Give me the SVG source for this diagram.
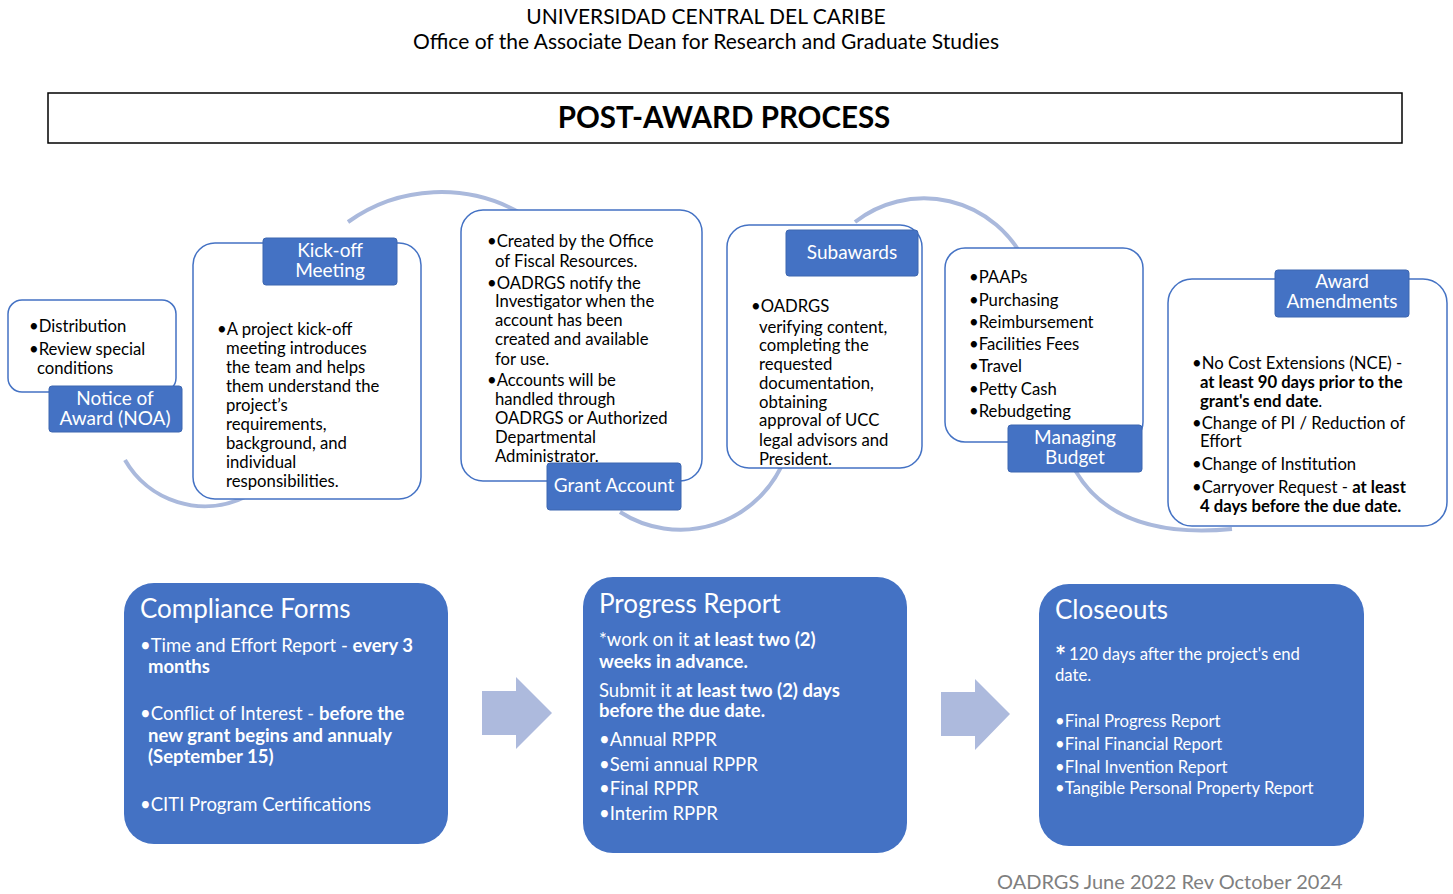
<svg xmlns="http://www.w3.org/2000/svg" width="1453" height="894" viewBox="0 0 1453 894">
<style>
text{font-family:Lato,"Open Sans","Liberation Sans",sans-serif;}
.hd{font-size:21px;fill:#000;text-anchor:middle;}
.card{fill:#fff;stroke:#4472c4;stroke-width:1.5;}
.lab{fill:#4472c4;stroke:#3d66b0;stroke-width:1;}
.lt{fill:#fff;font-size:19px;text-anchor:middle;}
.bt{fill:#000;font-size:16.7px;}
.big{fill:#4472c4;}
.bh{fill:#fff;font-size:26px;}
.bb{fill:#fff;font-size:18.5px;}
.bc{fill:#fff;font-size:16.7px;}
.ast{fill:#fff;font-size:26px;font-weight:bold;}
.b{font-weight:bold;}
.arc{fill:none;stroke:#aab9dc;stroke-width:4;}
.arr{fill:#adbadd;}
</style>
<rect width="1453" height="894" fill="#fff"/>
<text class="hd" x="706" y="24">UNIVERSIDAD CENTRAL DEL CARIBE</text>
<text class="hd" x="706" y="49">Office of the Associate Dean for Research and Graduate Studies</text>
<g id="title">
<rect x="48" y="93" width="1354" height="50" fill="#fff" stroke="#000" stroke-width="1.5"/>
<text x="724" y="128" font-size="29.5" font-weight="bold" text-anchor="middle" fill="#000">POST-AWARD PROCESS</text>
</g>
<g id="connectors">
<path class="arc" d="M125,460 A92,92 0 0 0 245,497"/>
<path class="arc" d="M348,222 A160,160 0 0 1 522,214"/>
<path class="arc" d="M620,512 A112,112 0 0 0 785,458"/>
<path class="arc" d="M855,222 A112,112 0 0 1 1025,262"/>
<path class="arc" d="M1075,470 Q1115,540 1232,529"/>
<path class="arr" d="M482,691 H516 V677 L552,713 L516,749 V735 H482 Z"/>
<path class="arr" d="M941,692 H975 V679 L1010,714 L975,750 V736 H941 Z"/>
</g>
<g id="noa">
<rect class="card" x="8" y="300" width="168" height="92" rx="14"/>
<text class="bt" x="29" y="332">•Distribution</text>
<text class="bt" x="29" y="355">•Review special</text>
<text class="bt" x="37" y="374">conditions</text>
<rect class="lab" x="49" y="386" width="133" height="46" rx="3"/>
<text class="lt" x="115" y="405">Notice of</text>
<text class="lt" x="115" y="425">Award (NOA)</text>
</g>
<g id="kickoff">
<rect class="card" x="193" y="243" width="228" height="256" rx="22"/>
<rect class="lab" x="263" y="238" width="134" height="47" rx="3"/>
<text class="lt" x="330" y="257">Kick-off</text>
<text class="lt" x="330" y="277">Meeting</text>
<text class="bt" x="217" y="335">•A project kick-off</text>
<text class="bt" x="226" y="354">meeting introduces</text>
<text class="bt" x="226" y="373">the team and helps</text>
<text class="bt" x="226" y="392">them understand the</text>
<text class="bt" x="226" y="411">project’s</text>
<text class="bt" x="226" y="430">requirements,</text>
<text class="bt" x="226" y="449">background, and</text>
<text class="bt" x="226" y="468">individual</text>
<text class="bt" x="226" y="487">responsibilities.</text>
</g>
<g id="grant">
<rect class="card" x="461" y="210" width="241" height="271" rx="22"/>
<text class="bt" x="487" y="247">•Created by the Office</text>
<text class="bt" x="495" y="267">of Fiscal Resources.</text>
<text class="bt" x="487" y="289">•OADRGS notify the</text>
<text class="bt" x="495" y="307">Investigator when the</text>
<text class="bt" x="495" y="326">account has been</text>
<text class="bt" x="495" y="345">created and available</text>
<text class="bt" x="495" y="365">for use.</text>
<text class="bt" x="487" y="386">•Accounts will be</text>
<text class="bt" x="495" y="405">handled through</text>
<text class="bt" x="495" y="424">OADRGS or Authorized</text>
<text class="bt" x="495" y="443">Departmental</text>
<text class="bt" x="495" y="462">Administrator.</text>
<rect class="lab" x="547" y="463" width="134" height="47" rx="3"/>
<text class="lt" x="614" y="492">Grant Account</text>
</g>
<g id="subawards">
<rect class="card" x="727" y="225" width="195" height="243" rx="22"/>
<rect class="lab" x="786" y="230" width="132" height="46" rx="3"/>
<text class="lt" x="852" y="259">Subawards</text>
<text class="bt" x="751" y="312">•OADRGS</text>
<text class="bt" x="759" y="333">verifying content,</text>
<text class="bt" x="759" y="351">completing the</text>
<text class="bt" x="759" y="370">requested</text>
<text class="bt" x="759" y="389">documentation,</text>
<text class="bt" x="759" y="408">obtaining</text>
<text class="bt" x="759" y="426">approval of UCC</text>
<text class="bt" x="759" y="446">legal advisors and</text>
<text class="bt" x="759" y="465">President.</text>
</g>
<g id="budget">
<rect class="card" x="945" y="248" width="198" height="194" rx="20"/>
<text class="bt" x="969" y="283">•PAAPs</text>
<text class="bt" x="969" y="306">•Purchasing</text>
<text class="bt" x="969" y="328">•Reimbursement</text>
<text class="bt" x="969" y="350">•Facilities Fees</text>
<text class="bt" x="969" y="372">•Travel</text>
<text class="bt" x="969" y="395">•Petty Cash</text>
<text class="bt" x="969" y="417">•Rebudgeting</text>
<rect class="lab" x="1008" y="425" width="134" height="47" rx="3"/>
<text class="lt" x="1075" y="444">Managing</text>
<text class="lt" x="1075" y="464">Budget</text>
</g>
<g id="amendments">
<rect class="card" x="1168" y="279" width="279" height="247" rx="24"/>
<rect class="lab" x="1275" y="270" width="134" height="47" rx="3"/>
<text class="lt" x="1342" y="288">Award</text>
<text class="lt" x="1342" y="308">Amendments</text>
<text class="bt" x="1192" y="369">•No Cost Extensions (NCE) -</text>
<text class="bt b" x="1200" y="388">at least 90 days prior to the</text>
<text class="bt" x="1200" y="407"><tspan font-weight="bold">grant's end date</tspan>.</text>
<text class="bt" x="1192" y="429">•Change of PI / Reduction of</text>
<text class="bt" x="1200" y="447">Effort</text>
<text class="bt" x="1192" y="470">•Change of Institution</text>
<text class="bt" x="1192" y="493">•Carryover Request - <tspan font-weight="bold">at least</tspan></text>
<text class="bt b" x="1200" y="512">4 days before the due date.</text>
</g>
<g id="compliance">
<rect class="big" x="124" y="583" width="324" height="261" rx="30"/>
<text class="bh" x="140" y="618">Compliance Forms</text>
<text class="bb" x="140" y="652">•Time and Effort Report - <tspan font-weight="bold">every 3</tspan></text>
<text class="bb b" x="148" y="673">months</text>
<text class="bb" x="140" y="720">•Conflict of Interest - <tspan font-weight="bold">before the</tspan></text>
<text class="bb b" x="148" y="742">new grant begins and annualy</text>
<text class="bb b" x="148" y="763">(September 15)</text>
<text class="bb" x="140" y="811">•CITI Program Certifications</text>
</g>
<g id="progress">
<rect class="big" x="583" y="577" width="324" height="276" rx="30"/>
<text class="bh" x="599" y="613">Progress Report</text>
<text class="bb" x="599" y="646">*work on it <tspan font-weight="bold">at least two (2)</tspan></text>
<text class="bb b" x="599" y="668">weeks in advance.</text>
<text class="bb" x="599" y="697">Submit it <tspan font-weight="bold">at least two (2) days</tspan></text>
<text class="bb b" x="599" y="717">before the due date.</text>
<text class="bb" x="599" y="746">•Annual RPPR</text>
<text class="bb" x="599" y="771">•Semi annual RPPR</text>
<text class="bb" x="599" y="795">•Final RPPR</text>
<text class="bb" x="599" y="820">•Interim RPPR</text>
</g>
<g id="closeouts">
<rect class="big" x="1039" y="584" width="325" height="262" rx="30"/>
<text class="bh" x="1055" y="619">Closeouts</text>
<text class="ast" x="1055" y="665">*</text>
<text class="bc" x="1069" y="660">120 days after the project's end</text>
<text class="bc" x="1055" y="681">date.</text>
<text class="bc" x="1055" y="727">•Final Progress Report</text>
<text class="bc" x="1055" y="750">•Final Financial Report</text>
<text class="bc" x="1055" y="773">•FInal Invention Report</text>
<text class="bc" x="1055" y="794">•Tangible Personal Property Report</text>
</g>
<text x="997" y="889" font-size="20" fill="#7f7f7f">OADRGS June 2022 Rev October 2024</text>
</svg>
